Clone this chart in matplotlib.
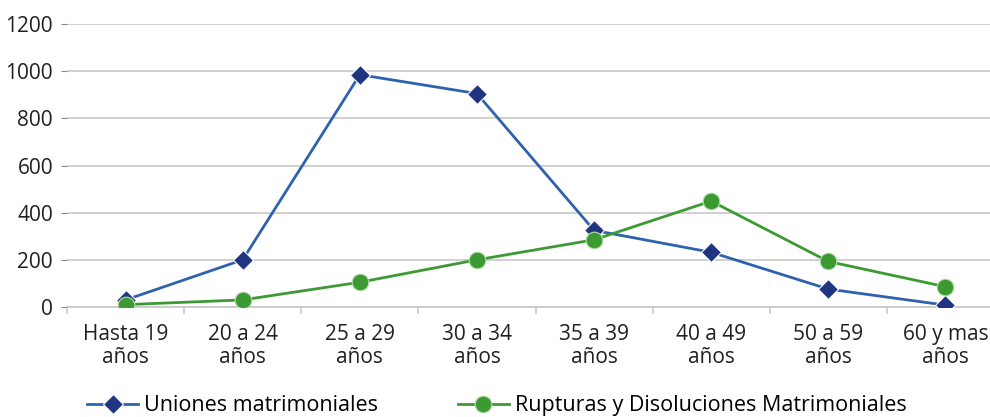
import numpy as np
import matplotlib
matplotlib.use("Agg")
import matplotlib.pyplot as plt
from matplotlib.ticker import FixedLocator

plt.rcParams['font.family'] = ['Open Sans', 'DejaVu Sans']

categories = ["Hasta 19\naños", "20 a 24\naños", "25 a 29\naños", "30 a 34\naños",
              "35 a 39\naños", "40 a 49\naños", "50 a 59\naños", "60 y mas\naños"]
uniones = [30, 200, 985, 905, 325, 232, 76, 8]
rupturas = [10, 30, 105, 200, 285, 449, 193, 86]

fig = plt.figure(figsize=(9.9, 4.17), dpi=100)
ax = fig.add_axes([67/990, 1-307/417, 937/990, 283/417])

x = np.arange(len(categories))
ax.plot(x, uniones, color="#2f62ae", lw=2, marker="D", ms=10,
        mfc="#1f3581", mec="white", mew=0.8, label="Uniones matrimoniales", zorder=3)
ax.plot(x, rupturas, color="#3c9a33", lw=2, marker="o", ms=12,
        mfc="#3c9a33", mec="#b8dcb0", mew=0.8, label="Rupturas y Disoluciones Matrimoniales", zorder=3)

ax.set_xlim(-0.5, len(categories) - 0.5)
ax.set_ylim(0, 1200)
ax.set_yticks(np.arange(0, 1201, 200))
ax.yaxis.grid(True, color="#c8c8c8", lw=1.2)
ax.set_axisbelow(True)
for s in ["top", "right", "left"]:
    ax.spines[s].set_visible(False)
ax.spines["bottom"].set_color("#c8c8c8")
ax.spines["bottom"].set_linewidth(1.2)

ax.set_xticks(x)
ax.set_xticklabels(categories, fontsize=15, color="#231f20", linespacing=1.12)
ax.tick_params(axis="x", length=0, pad=12)
ax.xaxis.set_minor_locator(FixedLocator(np.arange(-0.5, len(categories), 1)))
ax.tick_params(axis="x", which="minor", length=5, color="#c8c8c8", width=1.2)
ax.tick_params(axis="y", labelsize=15, labelcolor="#231f20", length=4,
               color="#888888", pad=6)

fig.legend(loc="lower left", bbox_to_anchor=(68/990, -0.045), ncol=2, frameon=False,
           fontsize=15.5, handlelength=2.35, columnspacing=3.7, handletextpad=0.3)

fig.savefig("out.png", dpi=100)
